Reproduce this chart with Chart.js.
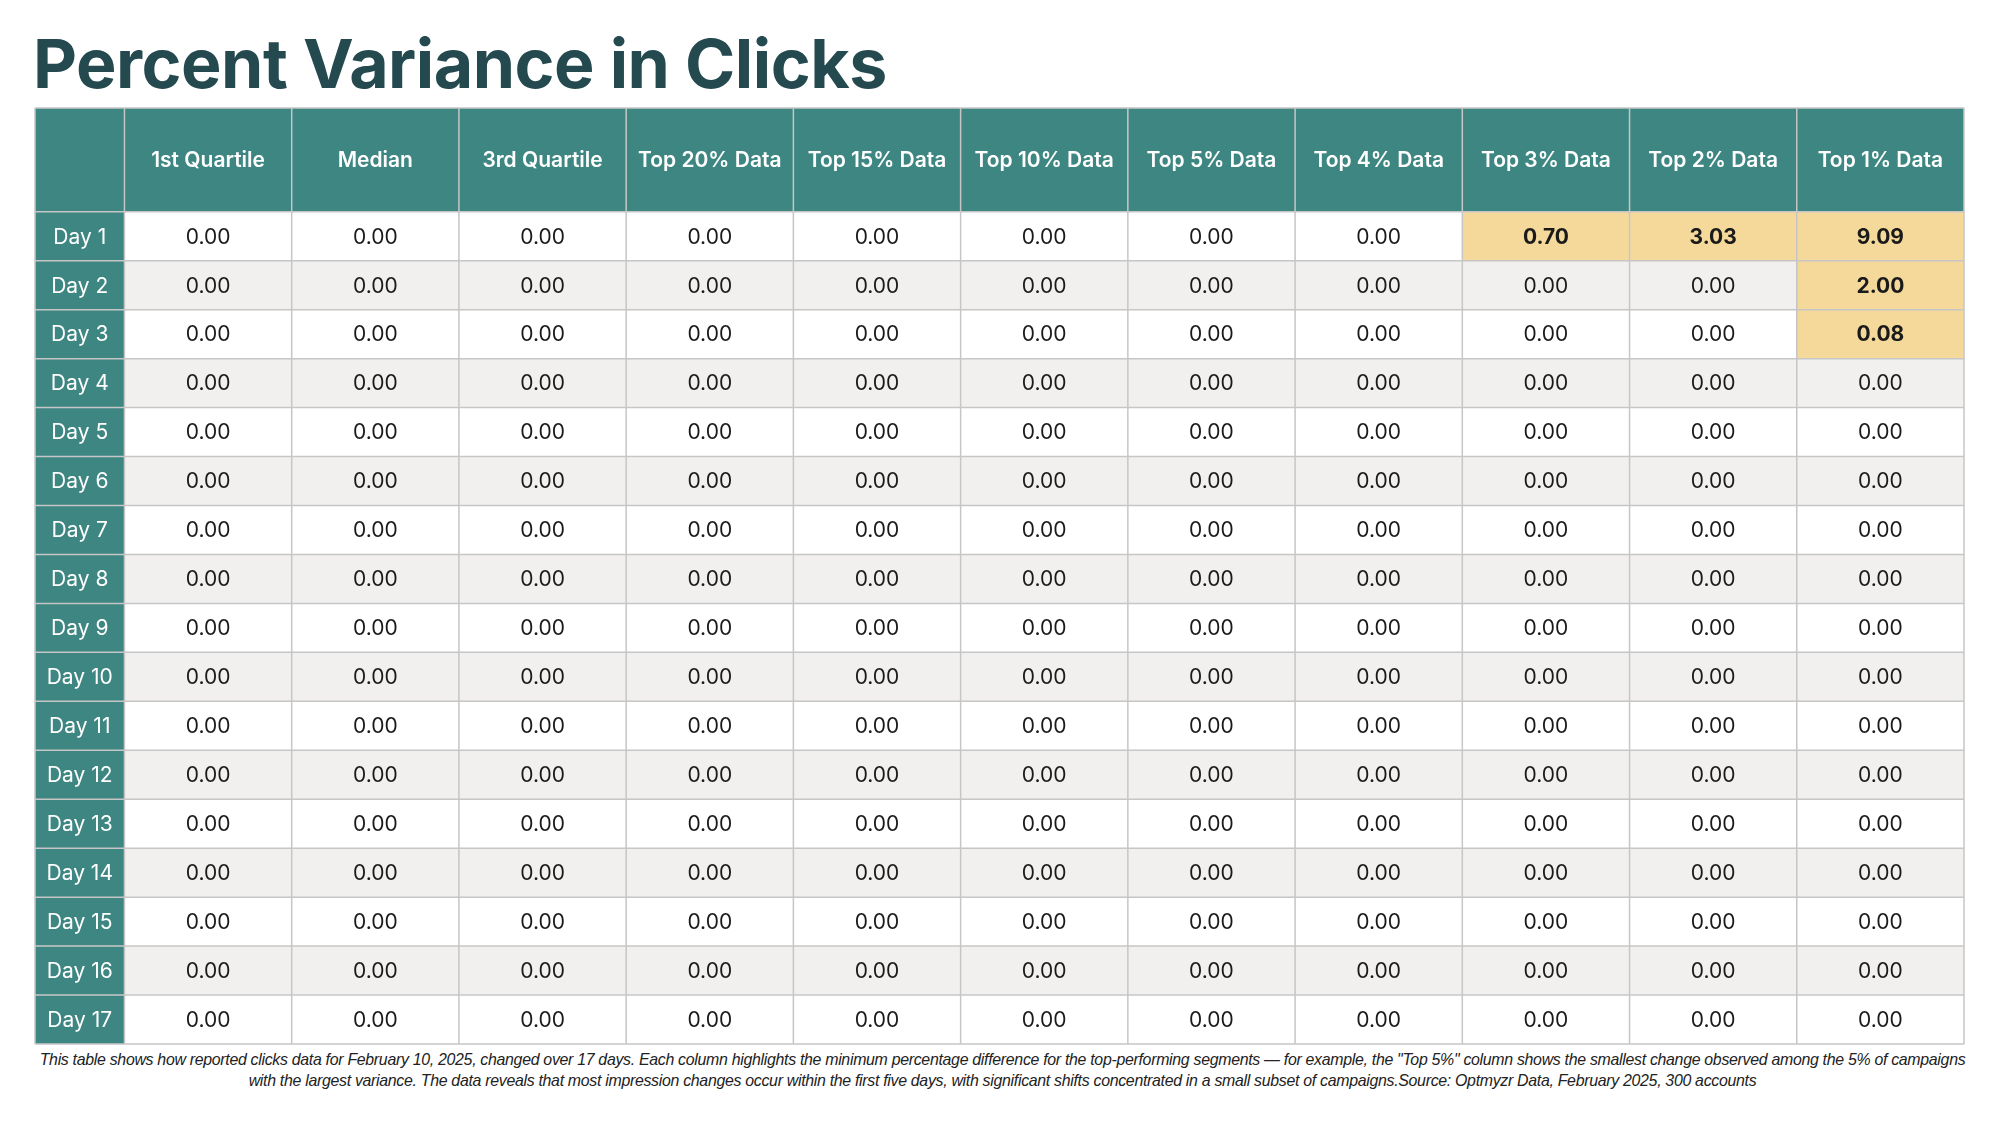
<!DOCTYPE html>
<html>
<head>
<meta charset="utf-8">
<script src="https://cdn.jsdelivr.net/npm/chart.js@4"></script>
<style>
  html, body { margin: 0; padding: 0; background: #fff; width: 1999px; height: 1125px; overflow: hidden; font-family: Inter, "Noto Sans", sans-serif; }
  #title { position: absolute; left: 33px; top: 22px; margin: 0; font-size: 68px; font-weight: 700; color: #244a4f; letter-spacing: -0.5px; }
  #wrap { position: absolute; left: 34px; top: 107px; width: 1931px; height: 938px; }
  #note { position: absolute; left: 30px; top: 1049px; width: 1945px; text-align: center; font-size: 15.9px; font-style: italic; color: #222; line-height: 21px; letter-spacing: -0.3px; font-family: "Liberation Sans", Arial, sans-serif; }
</style>
</head>
<body>
<h1 id="title">Percent Variance in Clicks</h1>
<div id="wrap"><canvas id="tbl"></canvas></div>
<div id="note">This table shows how reported clicks data for February 10, 2025, changed over 17 days. Each column highlights the minimum percentage difference for the top-performing segments — for example, the "Top 5%" column shows the smallest change observed among the 5% of campaigns with the largest variance. The data reveals that most impression changes occur within the first five days, with significant shifts concentrated in a small subset of campaigns.Source: Optmyzr Data, February 2025, 300 accounts</div>
<script>
// columns and rows of the table
const COLUMNS = ['1st Quartile', 'Median', '3rd Quartile', 'Top 20% Data', 'Top 15% Data', 'Top 10% Data',
                 'Top 5% Data', 'Top 4% Data', 'Top 3% Data', 'Top 2% Data', 'Top 1% Data'];
const DAYS = Array.from({length: 17}, (_, i) => 'Day ' + (i + 1));

// percent variance per day
const DAY1 = [0, 0, 0, 0, 0, 0, 0, 0, 0.70, 3.03, 9.09];
const DAY2 = [0, 0, 0, 0, 0, 0, 0, 0, 0, 0, 2.00];
const DAY3 = [0, 0, 0, 0, 0, 0, 0, 0, 0, 0, 0.08];
const REST = [0, 0, 0, 0, 0, 0, 0, 0, 0, 0, 0];
const VALUES = [DAY1, DAY2, DAY3].concat(Array.from({length: 14}, () => REST));

const FIRST_W = 0.535;   // width of the day column, in column units
const HEAD_H = 2.12;     // header height, in row units

const TEAL = '#3d8682';
const LINE = '#c6c6c6';
const HILITE = '#f5d99a';

// cell rectangles in scale units -> pixels via the chart scales
function cellBox(chart, c, r) {
    const x = chart.scales.x, y = chart.scales.y;
    const x0 = c < 0 ? 0 : FIRST_W + c, x1 = c < 0 ? FIRST_W : FIRST_W + c + 1;
    const y0 = r < 0 ? 0 : HEAD_H + r, y1 = r < 0 ? HEAD_H : HEAD_H + r + 1;
    const px0 = x.getPixelForValue(x0), px1 = x.getPixelForValue(x1);
    const py0 = y.getPixelForValue(y0), py1 = y.getPixelForValue(y1);
    return { l: px0, t: py0, w: px1 - px0, h: py1 - py0, cx: (px0 + px1) / 2, cy: (py0 + py1) / 2 };
}

const tablePlugin = {
    id: 'table',
    beforeDatasetsDraw(chart) {
        const ctx = chart.ctx;
        ctx.save();
        ctx.textAlign = 'center';
        ctx.textBaseline = 'middle';

        // header row
        let b = cellBox(chart, -1, -1);
        ctx.fillStyle = TEAL;
        ctx.fillRect(b.l, b.t, b.w, b.h);
        COLUMNS.forEach((name, c) => {
            const k = cellBox(chart, c, -1);
            ctx.fillStyle = TEAL;
            ctx.fillRect(k.l, k.t, k.w, k.h);
            ctx.fillStyle = '#ffffff';
            ctx.font = '600 21px Inter, "Noto Sans", sans-serif';
            ctx.fillText(name, k.cx, k.cy + 1);
        });

        // body rows
        DAYS.forEach((day, r) => {
            const d = cellBox(chart, -1, r);
            ctx.fillStyle = TEAL;
            ctx.fillRect(d.l, d.t, d.w, d.h);
            ctx.fillStyle = '#ffffff';
            ctx.font = '400 21px Inter, "Noto Sans", sans-serif';
            ctx.fillText(day, d.cx, d.cy + 1);
            VALUES[r].forEach((v, c) => {
                const k = cellBox(chart, c, r);
                const hot = v > 0;
                ctx.fillStyle = hot ? HILITE : (r % 2 === 0 ? '#ffffff' : '#f1f0ef');
                ctx.fillRect(k.l, k.t, k.w, k.h);
                ctx.fillStyle = '#1a1a1a';
                ctx.font = (hot ? '700 ' : '400 ') + '21px Inter, "Noto Sans", sans-serif';
                ctx.fillText(v.toFixed(2), k.cx, k.cy + 1);
            });
        });

        // grid lines
        ctx.strokeStyle = LINE;
        ctx.lineWidth = 1.5;
        const xs = [0, FIRST_W].concat(COLUMNS.map((_, c) => FIRST_W + c + 1));
        const ys = [0, HEAD_H].concat(DAYS.map((_, r) => HEAD_H + r + 1));
        const top = chart.scales.y.getPixelForValue(0), bot = chart.scales.y.getPixelForValue(ys[ys.length - 1]);
        const lft = chart.scales.x.getPixelForValue(0), rgt = chart.scales.x.getPixelForValue(xs[xs.length - 1]);
        ctx.beginPath();
        xs.forEach(v => { const p = chart.scales.x.getPixelForValue(v); ctx.moveTo(p, top); ctx.lineTo(p, bot); });
        ys.forEach(v => { const p = chart.scales.y.getPixelForValue(v); ctx.moveTo(lft, p); ctx.lineTo(rgt, p); });
        ctx.stroke();
        ctx.restore();
    }
};

new Chart(document.getElementById('tbl'), {
    type: 'scatter',
    data: { datasets: [{ data: [], pointRadius: 0 }] },
    options: {
        responsive: true, maintainAspectRatio: false, animation: false,
        layout: { padding: 1 },
        scales: {
            x: { type: 'linear', display: false, min: 0, max: FIRST_W + COLUMNS.length },
            y: { type: 'linear', display: false, reverse: true, min: 0, max: HEAD_H + DAYS.length }
        },
        plugins: { legend: { display: false }, tooltip: { enabled: false } }
    },
    plugins: [tablePlugin]
});
</script>
</body>
</html>
